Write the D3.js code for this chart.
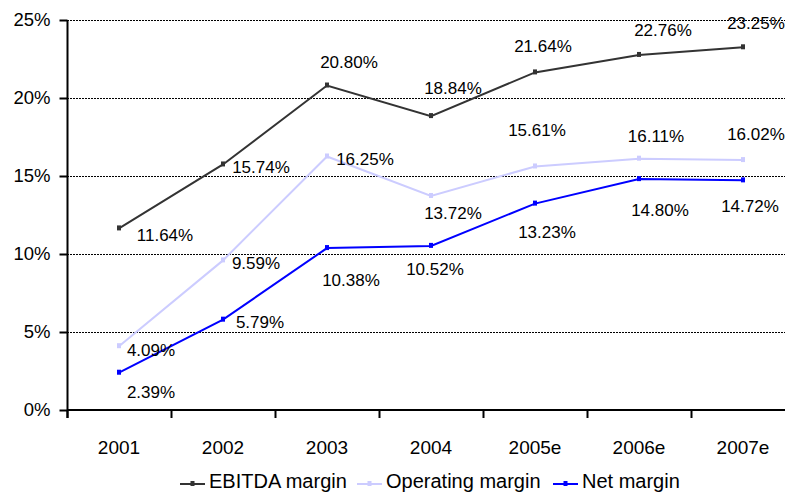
<!DOCTYPE html>
<html>
<head>
<meta charset="utf-8">
<script src="https://cdn.jsdelivr.net/npm/d3@7"></script>
<style>
  body { margin: 0; background: #fff; }
  svg { font-family: Arial, "Liberation Sans", sans-serif; }
</style>
</head>
<body>
<div id="chart-area"></div>
<script>

// data
var years = ["2001", "2002", "2003", "2004", "2005e", "2006e", "2007e"];
var ebitda = [11.64, 15.74, 20.80, 18.84, 21.64, 22.76, 23.25];
var operating = [4.09, 9.59, 16.25, 13.72, 15.61, 16.11, 16.02];
var net = [2.39, 5.79, 10.38, 10.52, 13.23, 14.80, 14.72];
var yTicks = [0, 5, 10, 15, 20, 25];

// where each data label sits, relative to its point (px)
var ebitdaLabelOff = [[46, 7], [38, 3], [22, -23], [22, -28], [8, -26], [24, -25], [13, -24]];
var opLabelOff = [[32, 4], [33, 3], [38, 3], [22, 17], [2, -36], [17, -23], [13, -26]];
var netLabelOff = [[32, 19], [37, 2], [24, 32], [4, 23], [12, 28], [21, 31], [7, 26]];

var series = [
    { name: "EBITDA margin", values: ebitda, color: "#333333", off: ebitdaLabelOff },
    { name: "Operating margin", values: operating, color: "#ccccff", off: opLabelOff },
    { name: "Net margin", values: net, color: "#0000ff", off: netLabelOff }
];

var W = 785, H = 497;
var plotLeft = 67, plotTop = 20, plotBottom = 410;

var svg = d3.select("#chart-area")
    .append("svg")
        .attr("width", W)
        .attr("height", H);

// scales - plot area runs past the right edge of the picture
var x = d3.scaleBand()
    .domain(years)
    .range([plotLeft, plotLeft + 104 * years.length]);

var y = d3.scaleLinear()
    .domain([0, 25])
    .range([plotBottom, plotTop]);

// gridlines
svg.append("g")
    .selectAll("line")
    .data(yTicks.filter(function(d){ return d > 0; }))
    .enter()
    .append("line")
        .attr("x1", plotLeft)
        .attr("x2", W)
        .attr("y1", function(d){ return y(d) + 0.5; })
        .attr("y2", function(d){ return y(d) + 0.5; })
        .attr("stroke", "#000")
        .attr("stroke-width", 1)
        .attr("stroke-dasharray", "2,1");

// Y Axis
var yAxisCall = d3.axisLeft(y)
    .tickValues(yTicks)
    .tickSize(8)
    .tickSizeOuter(0)
    .tickPadding(9)
    .tickFormat(function(d){ return d + "%"; });
var yAxis = svg.append("g")
    .attr("class", "y axis")
    .attr("transform", "translate(" + (plotLeft + 0.5) + ",0)")
    .call(yAxisCall);
yAxis.selectAll("text").attr("font-size", "18.5px").attr("fill", "#000");
yAxis.selectAll("line, path").attr("stroke", "#000").attr("stroke-width", 2);
yAxis.select(".domain").attr("d", "M0," + plotTop + "V" + (plotBottom + 8));

// X Axis (labels centred in bands, ticks at band edges)
var xAxisCall = d3.axisBottom(x).tickSize(0).tickSizeOuter(0);
var xAxis = svg.append("g")
    .attr("class", "x axis")
    .attr("transform", "translate(0," + plotBottom + ")")
    .call(xAxisCall);
xAxis.select(".domain").attr("d", "M" + plotLeft + ",0H" + W)
    .attr("stroke", "#000").attr("stroke-width", 2);
xAxis.selectAll("text")
    .attr("y", 37)
    .attr("dy", "0.35em")
    .attr("font-size", "19px")
    .attr("fill", "#000");
xAxis.selectAll(".edge")
    .data(years)
    .enter()
    .append("line")
        .attr("class", "edge")
        .attr("x1", function(d){ return x(d) + 0.5; })
        .attr("x2", function(d){ return x(d) + 0.5; })
        .attr("y1", 0)
        .attr("y2", 8)
        .attr("stroke", "#000")
        .attr("stroke-width", 2);

var cx = function(d, i){ return x(years[i]) + x.bandwidth() / 2; };

var line = d3.line()
    .x(cx)
    .y(function(d){ return y(d); });

series.forEach(function(s) {
    svg.append("path")
        .datum(s.values)
        .attr("fill", "none")
        .attr("stroke", s.color)
        .attr("stroke-width", 2)
        .attr("d", line);

    svg.append("g")
        .selectAll("rect")
        .data(s.values)
        .enter()
        .append("rect")
            .attr("x", function(d, i){ return cx(d, i) - 2; })
            .attr("y", function(d){ return y(d) - 3; })
            .attr("width", 4)
            .attr("height", 5)
            .attr("fill", s.color);
});

// data labels
series.forEach(function(s) {
    svg.append("g")
        .selectAll("text")
        .data(s.values)
        .enter()
        .append("text")
            .attr("x", function(d, i){ return cx(d, i) + s.off[i][0]; })
            .attr("y", function(d, i){ return y(d) + s.off[i][1]; })
            .attr("dy", "0.35em")
            .attr("text-anchor", "middle")
            .attr("font-size", "17px")
            .attr("fill", "#000")
            .text(function(d){ return d.toFixed(2) + "%"; });
});

// Legend
var legendX = [180, 357, 553];
var legend = svg.append("g").attr("transform", "translate(0,484)");
series.forEach(function(s, i) {
    var lg = legend.append("g").attr("transform", "translate(" + legendX[i] + ",0)");
    lg.append("line")
        .attr("x1", 0).attr("x2", 25)
        .attr("y1", 0).attr("y2", 0)
        .attr("stroke", s.color)
        .attr("stroke-width", 2);
    lg.append("rect")
        .attr("x", 10.5).attr("y", -3)
        .attr("width", 4).attr("height", 5)
        .attr("fill", s.color);
    lg.append("text")
        .attr("x", 29)
        .attr("y", 4)
        .attr("font-size", "20px")
        .attr("fill", "#000")
        .text(s.name);
});

</script>
</body>
</html>
